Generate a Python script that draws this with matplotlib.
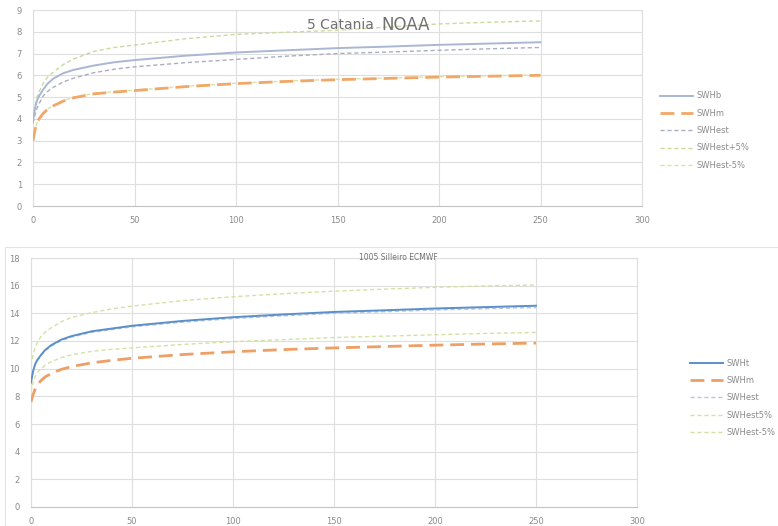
import matplotlib
matplotlib.use("Agg")
import matplotlib.pyplot as plt
from matplotlib.patches import Rectangle

# ---------------- data ----------------
x = [0, 1, 2, 3, 5, 7, 10, 15, 20, 30, 40, 50, 75, 100, 125, 150, 175, 200, 225, 250]

# Top chart: 5 Catania NOAA
top_swhb = [3.9, 4.5, 4.85, 5.05, 5.35, 5.6, 5.85, 6.1, 6.25, 6.45, 6.6, 6.7, 6.9, 7.05, 7.15, 7.25, 7.32, 7.4, 7.46, 7.52]
top_swhm = [3.0, 3.5, 3.8, 4.0, 4.25, 4.42, 4.6, 4.82, 4.97, 5.15, 5.23, 5.3, 5.48, 5.62, 5.72, 5.8, 5.86, 5.92, 5.96, 6.0]
top_swhest = [3.8, 4.2, 4.5, 4.7, 5.05, 5.25, 5.45, 5.7, 5.87, 6.12, 6.28, 6.39, 6.58, 6.73, 6.88, 7.0, 7.07, 7.15, 7.22, 7.28]
top_plus5 = [4.0, 4.6, 5.0, 5.25, 5.63, 5.9, 6.15, 6.5, 6.75, 7.1, 7.28, 7.39, 7.68, 7.88, 7.98, 8.07, 8.22, 8.36, 8.44, 8.5]
top_minus5 = [3.05, 3.52, 3.82, 4.02, 4.27, 4.44, 4.62, 4.84, 4.99, 5.17, 5.25, 5.32, 5.5, 5.64, 5.74, 5.82, 5.88, 5.94, 5.98, 6.02]
top_labels = ["SWHb", "SWHm", "SWHest", "SWHest+5%", "SWHest-5%"]

# Bottom chart: 1005 Silleiro ECMWF
bot_swht = [9.0, 9.8, 10.3, 10.6, 11.0, 11.35, 11.7, 12.1, 12.35, 12.7, 12.9, 13.1, 13.45, 13.72, 13.92, 14.1, 14.22, 14.35, 14.45, 14.55]
bot_swhm = [7.6, 8.1, 8.5, 8.8, 9.15, 9.4, 9.65, 9.95, 10.15, 10.42, 10.6, 10.75, 11.02, 11.22, 11.38, 11.5, 11.6, 11.7, 11.78, 11.85]
bot_swhest = [9.1, 9.8, 10.25, 10.55, 10.95, 11.3, 11.62, 12.02, 12.28, 12.62, 12.82, 13.02, 13.36, 13.62, 13.82, 14.0, 14.12, 14.24, 14.33, 14.42]
bot_plus5 = [10.2, 11.0, 11.5, 11.85, 12.35, 12.65, 12.95, 13.4, 13.7, 14.05, 14.32, 14.52, 14.92, 15.2, 15.42, 15.6, 15.75, 15.88, 15.98, 16.05]
bot_minus5 = [8.3, 9.0, 9.4, 9.7, 10.0, 10.25, 10.5, 10.8, 11.0, 11.25, 11.4, 11.5, 11.75, 11.95, 12.1, 12.25, 12.35, 12.45, 12.55, 12.62]
bot_labels = ["SWHt", "SWHm", "SWHest", "SWHest5%", "SWHest-5%"]

W, H = 778, 526
fig = plt.figure(figsize=(W / 100, H / 100), dpi=100)
fig.patch.set_facecolor("white")

def ax_rect(x0, y0, x1, y1):
    return [x0 / W, 1 - y1 / H, (x1 - x0) / W, (y1 - y0) / H]

GRID = "#DEDEDE"
TXT = "#8A8A8A"

def style(ax, ymax, ystep):
    ax.set_xlim(0, 300)
    ax.set_ylim(0, ymax)
    ax.set_xticks(range(0, 301, 50))
    ax.set_yticks(range(0, ymax + 1, ystep))
    ax.grid(True, color=GRID, lw=0.8)
    ax.set_axisbelow(True)
    for s in ax.spines.values():
        s.set_color(GRID)
        s.set_linewidth(0.8)
    ax.spines["bottom"].set_color("#C4C4C4")
    ax.tick_params(length=0, labelsize=6, colors=TXT, pad=8)
    ax.tick_params(axis="x", pad=7)

# frame of the bottom chart
fig.patches.append(Rectangle((5 / W, 0), 1, 1 - 247 / H, transform=fig.transFigure,
                             fill=False, edgecolor="#E3E3E3", lw=0.8))

order = [4, 3, 2, 1, 0]

# ---- top ----
ax1 = fig.add_axes(ax_rect(33, 10, 642, 206))
style(ax1, 9, 1)
ax1.plot(x, top_minus5, color="#D9E3A6", lw=1.0, ls=(0, (3, 2)), label=top_labels[4], zorder=2)
ax1.plot(x, top_plus5, color="#C9DB9E", lw=1.0, ls=(0, (3, 2)), label=top_labels[3], zorder=2)
ax1.plot(x, top_swhest, color="#A9AEC2", lw=1.0, ls=(0, (3, 2)), label=top_labels[2], zorder=3)
ax1.plot(x, top_swhm, color="#F0A868", lw=2.0, ls=(0, (5, 2.5)), label=top_labels[1], zorder=4)
ax1.plot(x, top_swhb, color="#AAB7D2", lw=1.4, label=top_labels[0], zorder=5)
h, l = ax1.get_legend_handles_labels()
fig.legend([h[i] for i in order], [l[i] for i in order], loc="upper left",
           bbox_to_anchor=(652 / W, 1 - 84 / H), frameon=False, fontsize=6,
           handlelength=4.0, labelspacing=1.0, handletextpad=0.4,
           labelcolor=TXT)
fig.text(307 / W, 1 - 25 / H, "5 Catania ", fontsize=10, color="#707070", va="center", ha="left")
fig.text(381 / W, 1 - 25 / H, "NOAA", fontsize=12, color="#707070", va="center", ha="left")

# ---- bottom ----
ax2 = fig.add_axes(ax_rect(31, 258, 637, 507))
style(ax2, 18, 2)
ax2.plot(x, bot_minus5, color="#D3E2A4", lw=1.0, ls=(0, (3, 2)), label=bot_labels[4], zorder=2)
ax2.plot(x, bot_plus5, color="#D3E2A4", lw=1.0, ls=(0, (3, 2)), label=bot_labels[3], zorder=2)
ax2.plot(x, bot_swhest, color="#B9C6DE", lw=1.0, ls=(0, (3, 2)), label=bot_labels[2], zorder=3)
ax2.plot(x, bot_swhm, color="#EE9F66", lw=2.0, ls=(0, (5, 2.5)), label=bot_labels[1], zorder=4)
ax2.plot(x, bot_swht, color="#5B8FC9", lw=1.4, label=bot_labels[0], zorder=5)
h, l = ax2.get_legend_handles_labels()
fig.legend([h[i] for i in order], [l[i] for i in order], loc="upper left",
           bbox_to_anchor=(682 / W, 1 - 351 / H), frameon=False, fontsize=6,
           handlelength=4.0, labelspacing=1.0, handletextpad=0.4,
           labelcolor=TXT)
fig.text(398 / W, 1 - 258 / H, "1005 Silleiro ECMWF", fontsize=5.5, color="#707070",
         va="center", ha="center")

fig.savefig("out.png", dpi=100, facecolor="white")
